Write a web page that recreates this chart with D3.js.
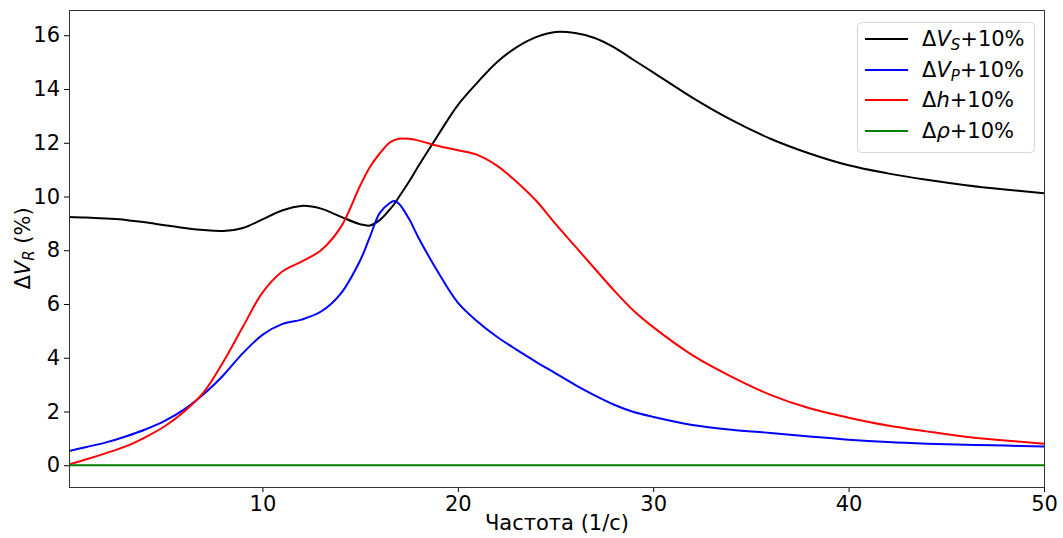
<!DOCTYPE html>
<html>
<head>
<meta charset="utf-8">
<script src="https://cdn.jsdelivr.net/npm/d3@7"></script>
<style>
  html, body { margin: 0; padding: 0; background: #fff; }
  svg { display: block; font-family: "DejaVu Sans", sans-serif; }
</style>
</head>
<body>
<svg id="chart" width="1063" height="538"></svg>
<script>
// ---- data ----
const freq = [0.1, 1, 2, 3, 4, 5, 6, 7, 8, 9, 10, 11, 12, 13, 14, 15, 15.5, 16, 16.5, 16.75, 17, 17.5, 18, 19, 20, 21, 22, 23, 24, 25, 26, 27, 28, 29, 30, 32, 34, 36, 38, 40, 42, 44, 46, 48, 50];
const dVs = [9.24, 9.22, 9.18, 9.13, 9.04, 8.93, 8.83, 8.75, 8.72, 8.83, 9.15, 9.48, 9.65, 9.55, 9.25, 8.97, 8.92, 9.12, 9.50, 9.72, 10.0, 10.55, 11.15, 12.3, 13.4, 14.24, 15.0, 15.55, 15.93, 16.12, 16.08, 15.9, 15.55, 15.08, 14.62, 13.68, 12.85, 12.15, 11.6, 11.16, 10.86, 10.62, 10.42, 10.26, 10.12];
const dVp = [0.53, 0.68, 0.85, 1.07, 1.33, 1.65, 2.08, 2.65, 3.35, 4.17, 4.85, 5.25, 5.42, 5.72, 6.38, 7.62, 8.5, 9.38, 9.75, 9.83, 9.72, 9.17, 8.45, 7.17, 6.05, 5.35, 4.78, 4.3, 3.85, 3.42, 2.99, 2.6, 2.25, 1.98, 1.8, 1.5, 1.32, 1.2, 1.07, 0.95, 0.86, 0.8, 0.76, 0.73, 0.70];
const dH  = [0.03, 0.22, 0.45, 0.70, 1.04, 1.45, 2.0, 2.72, 3.85, 5.15, 6.42, 7.2, 7.58, 8.0, 8.85, 10.4, 11.1, 11.6, 12.0, 12.1, 12.15, 12.15, 12.08, 11.88, 11.72, 11.55, 11.15, 10.55, 9.85, 8.98, 8.15, 7.32, 6.5, 5.75, 5.14, 4.1, 3.3, 2.62, 2.12, 1.77, 1.48, 1.26, 1.06, 0.92, 0.80];
const dRho = freq.map(() => 0);
const xTicks = [10, 20, 30, 40, 50];
const yTicks = [0, 2, 4, 6, 8, 10, 12, 14, 16];
const seriesNames = [
  {base: "V", sub: "S"},
  {base: "V", sub: "P"},
  {base: "h", sub: null},
  {base: "ρ", sub: null}
];
const seriesColors = ["#000000", "#0000ff", "#ff0000", "#008000"];
const seriesValues = [dVs, dVp, dH, dRho];
const xLabel = "Частота (1/с)";

// ---- layout ----
const L = 69, R = 1044, T = 10, B = 487;
const FS = 21;
const svg = d3.select("#chart");
const x = d3.scaleLinear().domain([0.1, 50]).range([L, R]);
const y = d3.scaleLinear().domain([-0.81, 16.94]).range([B, T]);

svg.append("clipPath").attr("id", "clip")
  .append("rect").attr("x", L).attr("y", T).attr("width", R - L).attr("height", B - T);

// lines
const line = d3.line().curve(d3.curveCatmullRom.alpha(0.5));
const g = svg.append("g").attr("clip-path", "url(#clip)");
seriesValues.forEach((vals, i) => {
  g.append("path")
    .attr("d", line(freq.map((f, j) => [x(f), y(vals[j])])))
    .attr("fill", "none")
    .attr("stroke", seriesColors[i])
    .attr("stroke-width", 2);
});

// axes
const xAxis = d3.axisBottom(x).tickValues(xTicks).tickSize(5).tickPadding(4).tickFormat(d3.format("d"));
const yAxis = d3.axisLeft(y).tickValues(yTicks).tickSize(5).tickPadding(4).tickFormat(d3.format("d"));
const gx = svg.append("g").attr("transform", `translate(0,${B})`).call(xAxis);
const gy = svg.append("g").attr("transform", `translate(${L},0)`).call(yAxis);
[gx, gy].forEach(a => {
  a.select(".domain").remove();
  a.selectAll("text").attr("font-size", FS).attr("fill", "#000").attr("font-family", "DejaVu Sans");
  a.selectAll("line").attr("stroke", "#000").attr("stroke-width", 1);
});

// frame
svg.append("rect").attr("x", L + 0.5).attr("y", T + 0.5)
  .attr("width", R - L).attr("height", B - T)
  .attr("fill", "none").attr("stroke", "#333").attr("stroke-width", 1);

// x label
svg.append("text").attr("x", 557).attr("y", 530)
  .attr("text-anchor", "middle").attr("font-size", FS).text(xLabel);

// y label
const yl = svg.append("text")
  .attr("transform", `translate(30,${(T + B) / 2}) rotate(-90)`)
  .attr("text-anchor", "middle").attr("font-size", FS);
yl.append("tspan").text("Δ");
yl.append("tspan").attr("font-style", "italic").text("V");
yl.append("tspan").attr("font-size", 15).attr("font-style", "italic").attr("dy", 4).text("R");
yl.append("tspan").attr("dy", -4).text(" (%)");

// legend
const lg = svg.append("g");
lg.append("rect").attr("x", 857.5).attr("y", 22.5).attr("width", 177).attr("height", 130)
  .attr("rx", 4).attr("fill", "#fff").attr("fill-opacity", 0.8)
  .attr("stroke", "#d6d6d6").attr("stroke-width", 1);
const rowY = [39, 70, 100, 131];
seriesNames.forEach((s, i) => {
  lg.append("line").attr("x1", 865).attr("x2", 908)
    .attr("y1", rowY[i]).attr("y2", rowY[i])
    .attr("stroke", seriesColors[i]).attr("stroke-width", 2);
  const t = lg.append("text").attr("x", 922).attr("y", rowY[i] + 7).attr("font-size", FS);
  t.append("tspan").text("Δ");
  t.append("tspan").attr("font-style", "italic").text(s.base);
  if (s.sub) {
    t.append("tspan").attr("font-size", 15).attr("font-style", "italic").attr("dy", 4).text(s.sub);
    t.append("tspan").attr("dy", -4).text("+10%");
  } else {
    t.append("tspan").text("+10%");
  }
});
</script>
</body>
</html>
